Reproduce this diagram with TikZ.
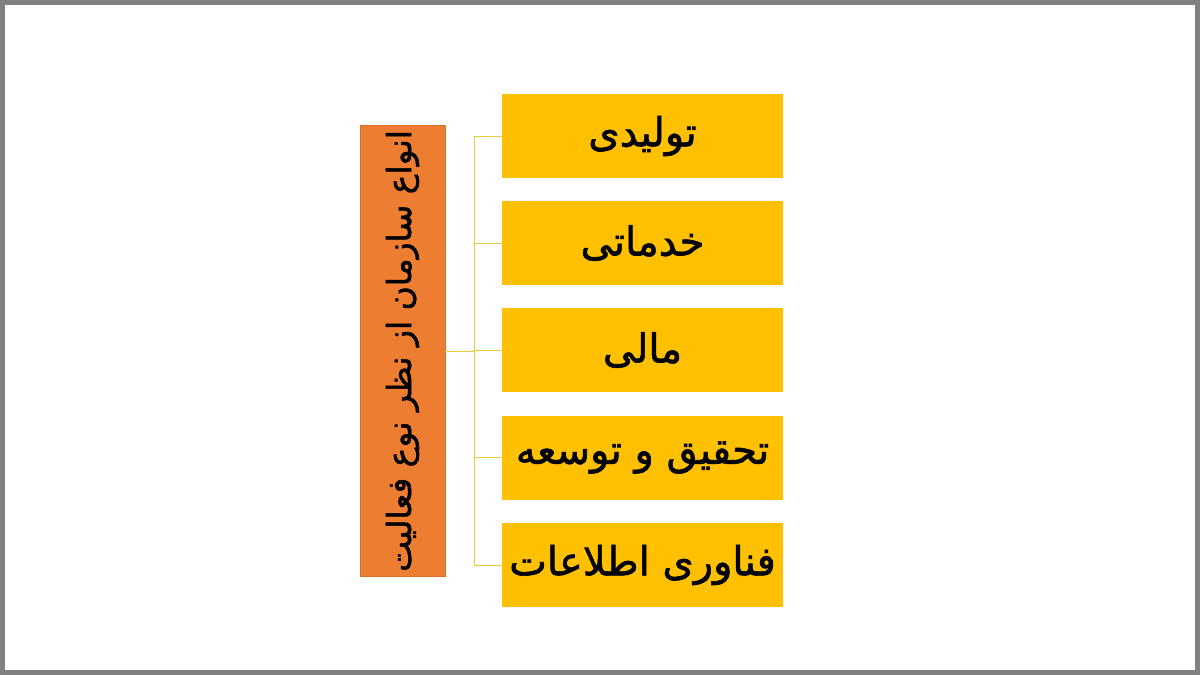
\documentclass[tikz,border=0pt]{standalone}
\usepackage{fontspec}
\newfontfamily\arabicfont[Script=Arabic,FakeBold=1.5]{DejaVu Sans}
\TeXXeTstate=1

\definecolor{boxyellow}{RGB}{255,192,0}
\definecolor{boxorange}{RGB}{237,125,49}
\definecolor{framegray}{RGB}{128,128,128}
\definecolor{linkgold}{RGB}{240,200,60}

\begin{document}
\begin{tikzpicture}[x=1pt,y=1pt,yscale=-1,xscale=1,
  typebox/.style={fill=boxyellow,minimum width=281pt,minimum height=84pt,inner sep=0pt,font=\arabicfont\fontsize{40}{46}\selectfont},
  titlebox/.style={fill=boxorange,draw={rgb,255:red,220;green,110;blue,40},line width=0.5pt,minimum width=451pt,minimum height=85pt,inner sep=0pt,rotate=90,font=\arabicfont\fontsize{33}{38}\selectfont},
  link/.style={draw=linkgold,line width=1pt}]
\useasboundingbox (0,0) rectangle (1200,675);

%Frame
\draw [draw=framegray,fill=white,line width=5pt] (2.5,2.5) rectangle (1197.5,672.5);

% Title Node
\node [titlebox] (title) at (402.5,351) {\beginR انواع سازمان از نظر نوع فعالیت\endR};

% Type Nodes
\node [typebox] (t1) at (642.5,136) {\beginR تولیدی\endR};
\node [typebox] (t2) at (642.5,243) {\beginR خدماتی\endR};
\node [typebox] (t3) at (642.5,350) {\beginR مالی\endR};
\node [typebox] (t4) at (642.5,457.5) {\beginR تحقیق و توسعه\endR};
\node [typebox] (t5) at (642.5,565) {\beginR فناوری اطلاعات\endR};

%Connectors
\coordinate (hub) at (474,351);
\draw [link] (title.south) -- (hub);
\foreach \n in {t1,t2,t3,t4,t5}
  \draw [link] (\n.west) -| (hub);

\end{tikzpicture}
\end{document}
